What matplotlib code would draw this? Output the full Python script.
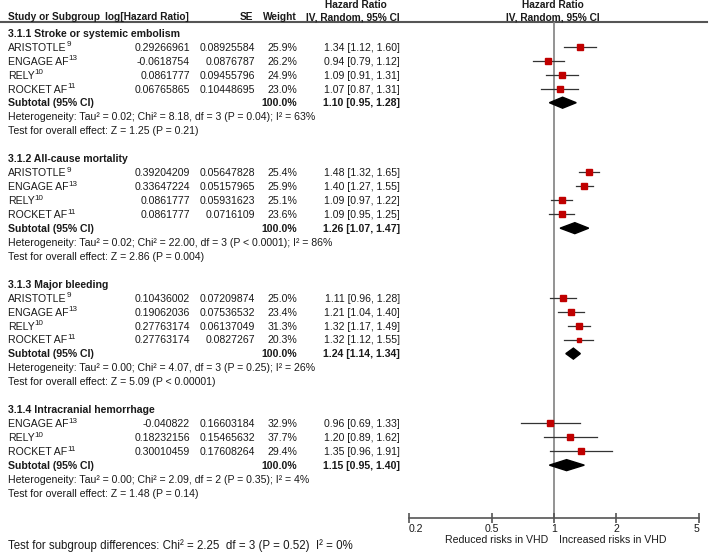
import numpy as np
import matplotlib
matplotlib.use("Agg")
import matplotlib.pyplot as plt
from matplotlib.patches import Polygon

plt.rcParams['font.family'] = ['Liberation Sans', 'DejaVu Sans']

# ---- data ----
section_titles = ["3.1.1 Stroke or systemic embolism", "3.1.2 All-cause mortality",
                  "3.1.3 Major bleeding", "3.1.4 Intracranial hemorrhage"]

study_names = [
    ["ARISTOTLE", "ENGAGE AF", "RELY", "ROCKET AF"],
    ["ARISTOTLE", "ENGAGE AF", "RELY", "ROCKET AF"],
    ["ARISTOTLE", "ENGAGE AF", "RELY", "ROCKET AF"],
    ["ENGAGE AF", "RELY", "ROCKET AF"],
]
study_refs = [
    ["9", "13", "10", "11"],
    ["9", "13", "10", "11"],
    ["9", "13", "10", "11"],
    ["13", "10", "11"],
]
log_hr = [
    ["0.29266961", "-0.0618754", "0.0861777", "0.06765865"],
    ["0.39204209", "0.33647224", "0.0861777", "0.0861777"],
    ["0.10436002", "0.19062036", "0.27763174", "0.27763174"],
    ["-0.040822", "0.18232156", "0.30010459"],
]
se = [
    ["0.08925584", "0.0876787", "0.09455796", "0.10448695"],
    ["0.05647828", "0.05157965", "0.05931623", "0.0716109"],
    ["0.07209874", "0.07536532", "0.06137049", "0.0827267"],
    ["0.16603184", "0.15465632", "0.17608264"],
]
weights = [
    [25.9, 26.2, 24.9, 23.0],
    [25.4, 25.9, 25.1, 23.6],
    [25.0, 23.4, 31.3, 20.3],
    [32.9, 37.7, 29.4],
]
hr = [
    [1.34, 0.94, 1.09, 1.07],
    [1.48, 1.40, 1.09, 1.09],
    [1.11, 1.21, 1.32, 1.32],
    [0.96, 1.20, 1.35],
]
ci_lo = [
    [1.12, 0.79, 0.91, 0.87],
    [1.32, 1.27, 0.97, 0.95],
    [0.96, 1.04, 1.17, 1.12],
    [0.69, 0.89, 0.96],
]
ci_hi = [
    [1.60, 1.12, 1.31, 1.31],
    [1.65, 1.55, 1.22, 1.25],
    [1.28, 1.40, 1.49, 1.55],
    [1.33, 1.62, 1.91],
]
sub_hr = [1.10, 1.26, 1.24, 1.15]
sub_lo = [0.95, 1.07, 1.14, 0.95]
sub_hi = [1.28, 1.47, 1.34, 1.40]
heterogeneity = [
    "Heterogeneity: Tau² = 0.02; Chi² = 8.18, df = 3 (P = 0.04); I² = 63%",
    "Heterogeneity: Tau² = 0.02; Chi² = 22.00, df = 3 (P < 0.0001); I² = 86%",
    "Heterogeneity: Tau² = 0.00; Chi² = 4.07, df = 3 (P = 0.25); I² = 26%",
    "Heterogeneity: Tau² = 0.00; Chi² = 2.09, df = 2 (P = 0.35); I² = 4%",
]
overall = [
    "Test for overall effect: Z = 1.25 (P = 0.21)",
    "Test for overall effect: Z = 2.86 (P = 0.004)",
    "Test for overall effect: Z = 5.09 (P < 0.00001)",
    "Test for overall effect: Z = 1.48 (P = 0.14)",
]
subgroup_test = "Test for subgroup differences: Chi² = 2.25  df = 3 (P = 0.52)  I² = 0%"
xticks = [0.2, 0.5, 1, 2, 5]
xtick_labels = ["0.2", "0.5", "1", "2", "5"]

# ---- layout (pixel units) ----
W, H = 709, 553
row0, row_h = 33, 13.94
x_name, x_log, x_se, x_w, x_ci = 8, 190, 255, 297, 400
y_line, y_axis = 22, 518
fs = 7.6
fsh = 7.3  # bold header
base = 3.8  # baseline offset below row centre
txt = '#1a1a1a'

fig = plt.figure(figsize=(W / 100, H / 100), dpi=100)
ax = fig.add_axes([0, 0, 1, 1])
ax.set_xlim(0, W)
ax.set_ylim(H, 0)
ax.axis('off')


def cell(x, y, s, ha='left', bold=False):
    return ax.text(x, y + base, s, fontsize=fs, ha=ha, va='baseline', color=txt,
                   fontweight='bold' if bold else 'normal')


axf = fig.add_axes([409 / W, (H - y_axis) / H, 290 / W, (y_axis - y_line) / H])
axf.set_xscale('log')
axf.set_xlim(0.2, 5)
axf.set_ylim(y_axis, y_line)
axf.patch.set_alpha(0)
for s in ['top', 'left', 'right']:
    axf.spines[s].set_visible(False)
axf.spines['bottom'].set_color('#555555')
axf.spines['bottom'].set_linewidth(1.2)
axf.set_yticks([])
axf.xaxis.set_minor_locator(matplotlib.ticker.NullLocator())
axf.set_xticks(xticks)
axf.set_xticklabels(xtick_labels, fontsize=fs, color=txt)
axf.tick_params(axis='x', direction='inout', length=7, width=1.2, color='#555555', pad=1)
lbls = axf.get_xticklabels()
lbls[0].set_ha('left')
lbls[-1].set_ha('right')
axf.axvline(1, color='#808080', lw=1.2, zorder=1)

# header
ax.text(356, 5, "Hazard Ratio", fontsize=fsh, fontweight='bold', ha='center', va='center', color=txt)
ax.text(553, 5, "Hazard Ratio", fontsize=fsh, fontweight='bold', ha='center', va='center', color=txt)
ax.text(x_name, 17, "Study or Subgroup", fontsize=fsh, fontweight='bold', va='center', color=txt)
ax.text(105, 17, "log[Hazard Ratio]", fontsize=fsh, fontweight='bold', va='center', color=txt)
ax.text(253, 17, "SE", fontsize=fsh, fontweight='bold', ha='right', va='center', color=txt)
ax.text(x_w, 17, "Weight", fontsize=fsh, fontweight='bold', ha='right', va='center', color=txt)
ax.text(x_ci, 17, "IV, Random, 95% CI", fontsize=fsh, fontweight='bold', ha='right', va='center', color=txt)
ax.text(553, 17, "IV, Random, 95% CI", fontsize=fsh, fontweight='bold', ha='center', va='center', color=txt)
ax.plot([0, 707], [y_line, y_line], color='#555555', lw=1.5)

red = '#c00000'
r = 0
for k, title in enumerate(section_titles):
    y = row0 + row_h * r
    cell(x_name, y, title, bold=True)
    r += 1
    for j in range(len(study_names[k])):
        y = row0 + row_h * r
        t = cell(x_name, y, study_names[k][j])
        ax.annotate(study_refs[k][j], xy=(1, 1), xycoords=t, xytext=(0, 1),
                    textcoords='offset points', fontsize=5.8, ha='left', va='top', color=txt)
        cell(x_log, y, log_hr[k][j], ha='right')
        cell(x_se, y, se[k][j], ha='right')
        cell(x_w, y, f"{weights[k][j]:.1f}%", ha='right')
        cell(x_ci, y, f"{hr[k][j]:.2f} [{ci_lo[k][j]:.2f}, {ci_hi[k][j]:.2f}]", ha='right')
        axf.plot([ci_lo[k][j], ci_hi[k][j]], [y, y], color='#333333', lw=0.9, zorder=2)
        side = 1.1 * np.sqrt(weights[k][j]) * 0.72
        axf.plot(hr[k][j], y, marker='s', ms=side, color=red, mec=red, zorder=3)
        r += 1
    y = row0 + row_h * r
    cell(x_name, y, "Subtotal (95% CI)", bold=True)
    cell(x_w, y, "100.0%", ha='right', bold=True)
    cell(x_ci, y, f"{sub_hr[k]:.2f} [{sub_lo[k]:.2f}, {sub_hi[k]:.2f}]", ha='right', bold=True)
    dh = 5.5
    axf.add_patch(Polygon([(sub_lo[k], y), (sub_hr[k], y - dh), (sub_hi[k], y), (sub_hr[k], y + dh)],
                          closed=True, color='black', zorder=3))
    r += 1
    cell(x_name, row0 + row_h * r, heterogeneity[k])
    r += 1
    cell(x_name, row0 + row_h * r, overall[k])
    r += 2

ax.text(497, 540, "Reduced risks in VHD", fontsize=fs, ha='center', va='center', color=txt)
ax.text(613, 540, "Increased risks in VHD", fontsize=fs, ha='center', va='center', color=txt)
ax.text(x_name, 546, subgroup_test, fontsize=8.3, va='center', color=txt)

fig.savefig("out.png", dpi=100)
